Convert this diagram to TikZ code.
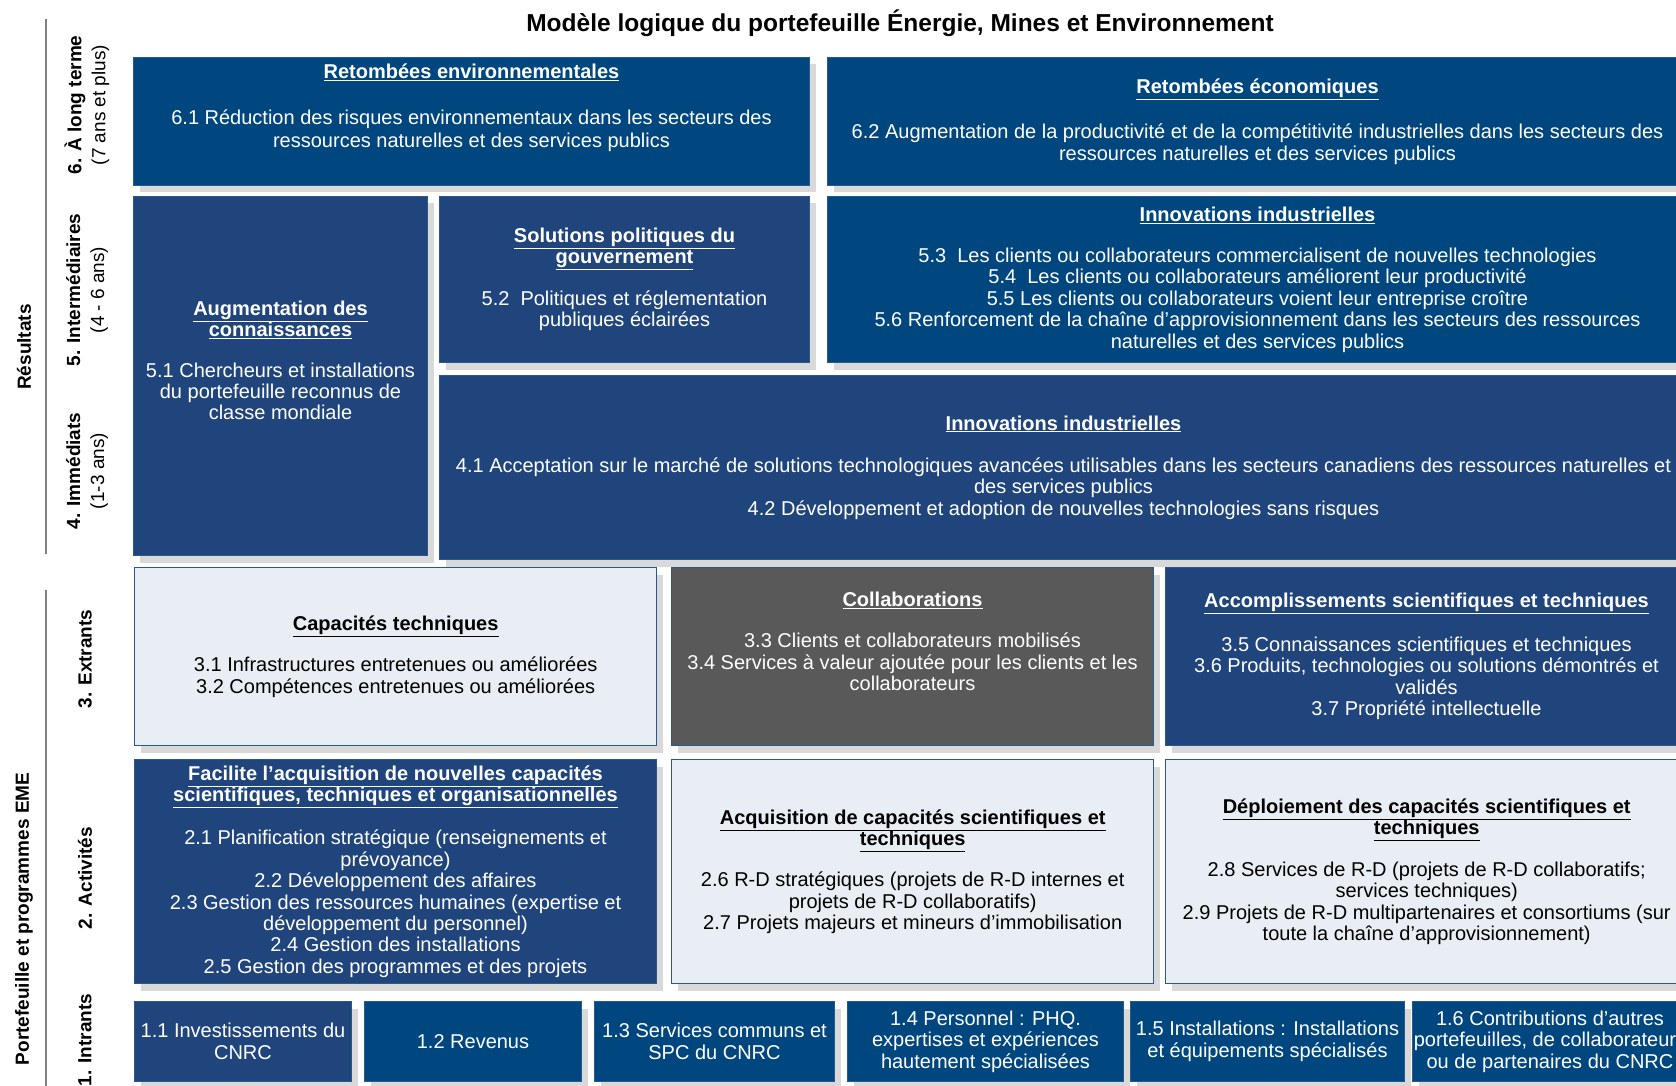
\documentclass[tikz,border=0pt]{standalone}
\usepackage{fontspec}
\setmainfont{Liberation Sans}
\usetikzlibrary{shadows}
\definecolor{emeblue}{RGB}{0,70,127}
\definecolor{emenavy}{RGB}{32,69,124}
\definecolor{emegray}{RGB}{89,89,89}
\definecolor{emelight}{RGB}{233,238,245}
\definecolor{emeedge}{RGB}{40,88,140}
\definecolor{emeshadow}{RGB}{217,217,217}
\setlength{\lineskiplimit}{-30pt}
\newcommand{\ttl}[1]{\underline{\textbf{#1}}}

\begin{document}
\begin{tikzpicture}[x=1pt, y=-1pt,
    box/.style={anchor=north west, inner sep=0pt, align=center, line width=1pt,
      font=\fontsize{20}{21.4}\selectfont,
      drop shadow={shadow xshift=6pt, shadow yshift=-7pt, fill=emeshadow, opacity=1}},
    bluebox/.style={box, fill=emeblue, draw=emeedge, text=white},
    navybox/.style={box, fill=emenavy, draw=emeedge, text=white},
    greybox/.style={box, fill=emegray, draw=emeedge, text=white},
    lightbox/.style={box, fill=emelight, draw=emeedge, line width=1.4pt, text=black},
    level/.style={rotate=90, align=center, font=\fontsize{19}{24}\selectfont},
    group/.style={rotate=90, font=\bfseries\fontsize{19}{22}\selectfont},
    bracket/.style={draw=gray, line width=1.3pt}]
  \clip (0,0) rectangle (1676,1086);
  \fill[white] (0,0) rectangle (1676,1086);

  % title
  \node[font=\bfseries\fontsize{24.5}{28}\selectfont] (title) at (900,23)
    {Modèle logique du portefeuille Énergie, Mines et Environnement};

  % left side labels
  \node[group] (results) at (24,347) {Résultats};
  \node[group] (portfolio) at (24,919) {Portefeuille et programmes EME};
  \draw[bracket] (46,19) -- (46,554);
  \draw[bracket] (46,590) -- (46,1086);
  \node[level] (lvl6) at (87,105) {\textbf{6. À long terme}\\(7 ans et plus)};
  \node[level] (lvl5) at (87,290) {\textbf{5. Intermédiaires}\\(4 - 6 ans)};
  \node[level] (lvl4) at (87,471) {\textbf{4. Immédiats}\\(1-3 ans)};
  \node[level] (lvl3) at (85,659) {\textbf{3. Extrants}};
  \node[level] (lvl2) at (85,878) {\textbf{2. Activités}};
  \node[level] (lvl1) at (85,1040) {\textbf{1. Intrants}};

  % long term
  \node[bluebox, minimum width=676pt, minimum height=128pt] (ltenv) at (133,57)
    {\ttl{Retombées environnementales}\\[24pt]
     6.1 Réduction des risques environnementaux dans les secteurs des\\[2pt]
     ressources naturelles et des services publics\\[10pt]\mbox{}};
  \node[bluebox, minimum width=860pt, minimum height=128pt] (lteco) at (827,57)
    {\ttl{Retombées économiques}\\[24pt]
     6.2 Augmentation de la productivité et de la compétitivité industrielles dans les secteurs des\\
     ressources naturelles et des services publics};

  % intermediate and immediate
  \node[navybox, minimum width=294pt, minimum height=359pt] (knowledge) at (133,196)
    {\ttl{Augmentation des}\\\ttl{connaissances}\\[19pt]
     5.1 Chercheurs et installations\\du portefeuille reconnus de\\classe mondiale\\[10pt]\mbox{}};
  \node[navybox, minimum width=370pt, minimum height=166pt] (policy) at (439,196)
    {\ttl{Solutions politiques du}\\\ttl{gouvernement}\\[20pt]
     5.2~ Politiques et réglementation\\publiques éclairées};
  \node[bluebox, minimum width=860pt, minimum height=166pt] (industry) at (827,196)
    {\ttl{Innovations industrielles}\\[20pt]
     5.3~ Les clients ou collaborateurs commercialisent de nouvelles technologies\\
     5.4~ Les clients ou collaborateurs améliorent leur productivité\\
     5.5 Les clients ou collaborateurs voient leur entreprise croître\\
     5.6 Renforcement de la chaîne d’approvisionnement dans les secteurs des ressources\\
     naturelles et des services publics};
  \node[navybox, minimum width=1248pt, minimum height=184pt] (immediate) at (439,375)
    {\ttl{Innovations industrielles}\\[21pt]
     4.1 Acceptation sur le marché de solutions technologiques avancées utilisables dans les secteurs canadiens des ressources naturelles et\\
     des services publics\\
     4.2 Développement et adoption de nouvelles technologies sans risques};

  % outputs
  \node[lightbox, minimum width=522pt, minimum height=178pt] (capacity) at (134,567)
    {\ttl{Capacités techniques}\\[20pt]
     3.1 Infrastructures entretenues ou améliorées\\
     3.2 Compétences entretenues ou améliorées};
  \node[greybox, minimum width=482pt, minimum height=178pt] (collab) at (671,567)
    {\ttl{Collaborations}\\[20pt]
     3.3 Clients et collaborateurs mobilisés\\
     3.4 Services à valeur ajoutée pour les clients et les\\collaborateurs\\[9pt]\mbox{}};
  \node[navybox, minimum width=522pt, minimum height=178pt] (achieve) at (1165,567)
    {\ttl{Accomplissements scientifiques et techniques}\\[22pt]
     3.5 Connaissances scientifiques et techniques\\
     3.6 Produits, technologies ou solutions démontrés et\\validés\\
     3.7 Propriété intellectuelle};

  % activities
  \node[navybox, minimum width=522pt, minimum height=224pt] (enable) at (134,759)
    {\ttl{Facilite l’acquisition de nouvelles capacités}\\
     \ttl{scientifiques, techniques et organisationnelles}\\[22pt]
     2.1 Planification stratégique (renseignements et\\prévoyance)\\
     2.2 Développement des affaires\\
     2.3 Gestion des ressources humaines (expertise et\\développement du personnel)\\
     2.4 Gestion des installations\\
     2.5 Gestion des programmes et des projets};
  \node[lightbox, minimum width=482pt, minimum height=224pt] (acquire) at (671,759)
    {\ttl{Acquisition de capacités scientifiques et}\\\ttl{techniques}\\[20pt]
     2.6 R-D stratégiques (projets de R-D internes et\\projets de R-D collaboratifs)\\
     2.7 Projets majeurs et mineurs d’immobilisation};
  \node[lightbox, minimum width=522pt, minimum height=224pt] (deploy) at (1165,759)
    {\ttl{Déploiement des capacités scientifiques et}\\\ttl{techniques}\\[20pt]
     2.8 Services de R-D (projets de R-D collaboratifs;\\services techniques)\\
     2.9 Projets de R-D multipartenaires et consortiums (sur\\toute la chaîne d’approvisionnement)};

  % inputs
  \node[navybox, minimum width=217pt, minimum height=80pt] (in1) at (134,1001)
    {1.1 Investissements du\\CNRC};
  \node[bluebox, minimum width=217pt, minimum height=80pt] (in2) at (364,1001)
    {1.2 Revenus};
  \node[bluebox, minimum width=240pt, minimum height=80pt] (in3) at (594,1001)
    {1.3 Services communs et\\SPC du CNRC};
  \node[bluebox, minimum width=276pt, minimum height=80pt] (in4) at (847,1001)
    {1.4 Personnel : PHQ.\\expertises et expériences\\hautement spécialisées};
  \node[bluebox, minimum width=274pt, minimum height=80pt] (in5) at (1130,1001)
    {1.5 Installations : Installations\\et équipements spécialisés};
  \node[bluebox, minimum width=275pt, minimum height=80pt] (in6) at (1412,1001)
    {1.6 Contributions d’autres\\portefeuilles, de collaborateurs\\ou de partenaires du CNRC};
\end{tikzpicture}
\end{document}
